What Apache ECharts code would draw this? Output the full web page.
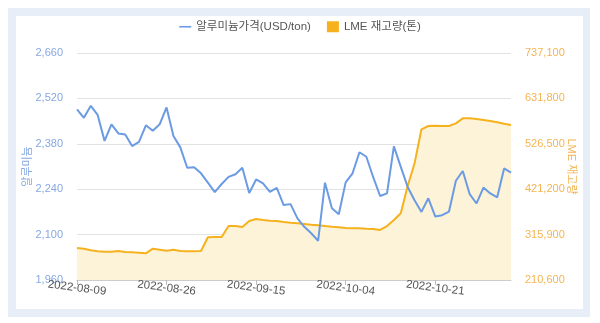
<!DOCTYPE html>
<html><head><meta charset="utf-8">
<script src="https://cdn.jsdelivr.net/npm/echarts@6/dist/echarts.min.js"></script>
<style>
html,body{margin:0;padding:0;background:#fff;width:600px;height:323px;overflow:hidden;}
#frame{position:absolute;left:8px;top:8px;width:582px;height:309px;background:#e7eef8;}
#inner{position:absolute;left:16px;top:16px;width:567px;height:293px;background:#fff;}
#chart{position:absolute;left:0;top:0;width:600px;height:323px;}
</style></head>
<body>
<div id="frame"></div><div id="inner"></div>
<div id="chart"></div>
<script>
const dates = [
"2022-08-09","2022-08-10","2022-08-11","2022-08-12","2022-08-15","2022-08-16","2022-08-17","2022-08-18","2022-08-19","2022-08-22","2022-08-23","2022-08-24","2022-08-25","2022-08-26",
"2022-08-30","2022-08-31","2022-09-01","2022-09-02","2022-09-05","2022-09-06","2022-09-07","2022-09-08","2022-09-09","2022-09-12","2022-09-13","2022-09-14","2022-09-15",
"2022-09-16","2022-09-19","2022-09-20","2022-09-21","2022-09-22","2022-09-23","2022-09-26","2022-09-27","2022-09-28","2022-09-29","2022-09-30","2022-10-03","2022-10-04",
"2022-10-05","2022-10-06","2022-10-07","2022-10-10","2022-10-11","2022-10-12","2022-10-13","2022-10-14","2022-10-17","2022-10-18","2022-10-19","2022-10-20","2022-10-21",
"2022-10-24","2022-10-25","2022-10-26","2022-10-27","2022-10-28","2022-10-31","2022-11-01","2022-11-02","2022-11-03","2022-11-04","2022-11-07"
];
const priceName = "알루미늄가격(USD/ton)";
const stockName = "LME 재고량(톤)";
const price = [
2486,2460,2497,2469,2389,2440,2412,2409,2373,2386,2437,2420,2440,2492,
2404,2369,2306,2308,2289,2260,2231,2256,2278,2286,2306,2228,2270,
2258,2232,2244,2191,2194,2150,2124,2104,2081,2260,2181,2163,2261,
2289,2354,2340,2277,2219,2227,2372,2309,2247,2206,2170,2212,2156,
2160,2171,2266,2296,2225,2196,2245,2227,2215,2304,2291
];
const stock = [
284800,283200,279500,277100,276200,276200,277900,275500,274800,274000,272500,283200,280900,278600,
280900,277900,277100,277100,277900,309600,310300,310300,335800,335800,333500,347400,352100,
349800,348100,347400,345100,343500,342100,340500,338900,337500,335800,334200,332800,331200,
330500,330500,329600,328900,326600,335800,349800,365300,428600,481200,560100,567800,568500,
567800,567800,574000,585600,585600,584000,581700,579300,576300,573100,570100
];
const leftTicks = {min:1960, max:2660, interval:140};
const rightTicks = {min:210600, max:737100, interval:105300};

const blue = '#6b9be3', gold = '#f6b21e';
const chart = echarts.init(document.getElementById('chart'), null, {renderer:'canvas'});
chart.setOption({
  backgroundColor:'transparent',
  textStyle:{fontFamily:'"Liberation Sans","Noto Sans CJK KR",sans-serif'},
  legend:{
    left:'center', top:16, itemWidth:12, itemHeight:11, itemGap:16,
    textStyle:{color:'#555', fontSize:11.5},
    data:[{name:priceName, icon:'path://M0,5L12,5L12,6.6L0,6.6Z', itemStyle:{color:blue}},
          {name:stockName, icon:'rect', itemStyle:{color:gold}}]
  },
  grid:{left:77, right:89, top:53, bottom:43, containLabel:false},
  xAxis:{
    type:'category', data:dates, boundaryGap:false,
    axisLine:{lineStyle:{color:'#ccc'}},
    axisTick:{show:true, interval:12, alignWithLabel:true, lineStyle:{color:'#bbb'}},
    axisLabel:{interval:12, rotate:-7, align:'center', color:'#555', fontSize:11.5, margin:8}
  },
  yAxis:[
    {type:'value', min:leftTicks.min, max:leftTicks.max, interval:leftTicks.interval, position:'left',
     name:'알루미늄', nameLocation:'middle', nameGap:44, nameMoveOverlap:false, nameTextStyle:{color:'#86a8e2', fontSize:11},
     axisLine:{show:false}, axisTick:{show:false},
     axisLabel:{color:'#86a8e2', fontSize:11, margin:14, formatter:v=>v.toLocaleString('en-US')},
     splitLine:{lineStyle:{color:'#e2e2e2'}}},
    {type:'value', min:rightTicks.min, max:rightTicks.max, interval:rightTicks.interval, position:'right',
     name:'LME 재고량', nameLocation:'middle', nameGap:55, nameMoveOverlap:false, nameRotate:-90, nameTextStyle:{color:'#f3b453', fontSize:11},
     axisLine:{show:false}, axisTick:{show:false},
     axisLabel:{color:'#f3b453', fontSize:11, margin:14, formatter:v=>v.toLocaleString('en-US')},
     splitLine:{show:false}}
  ],
  series:[
    {name:stockName, type:'line', yAxisIndex:1, data:stock, symbol:'none', smooth:false,
     lineStyle:{color:gold, width:2}, itemStyle:{color:gold},
     areaStyle:{color:'#fdf3d9', opacity:1}, z:1},
    {name:priceName, type:'line', yAxisIndex:0, data:price, symbol:'none', smooth:false,
     lineStyle:{color:blue, width:2}, itemStyle:{color:blue}, z:3}
  ],
  animation:false
});
</script>
</body></html>
